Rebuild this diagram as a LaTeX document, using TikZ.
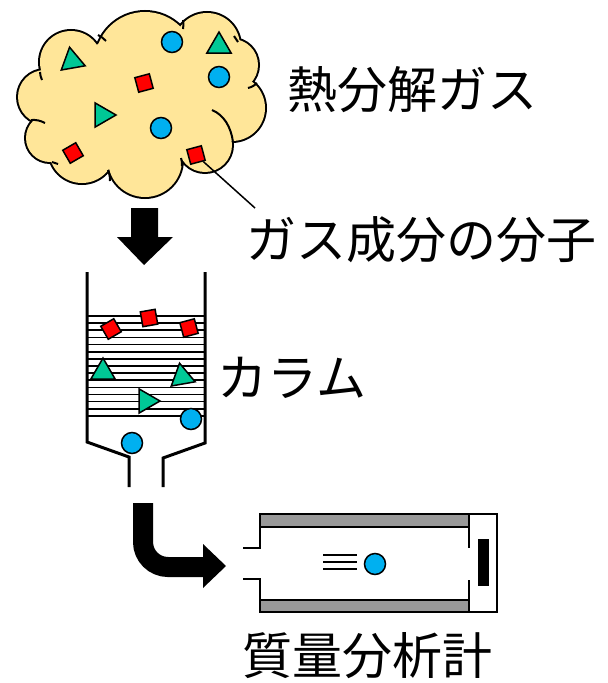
\documentclass[tikz,border=0pt]{standalone}
\usepackage{fontspec}
\setmainfont{Noto Sans CJK JP}
\usepackage{xcolor}
\usetikzlibrary{shapes.geometric}
\definecolor{cloudfill}{HTML}{FFE699}
\definecolor{molblue}{HTML}{00B0F0}
\definecolor{molgreen}{HTML}{00C896}
\definecolor{tubegray}{HTML}{999999}

\begin{document}
\begin{tikzpicture}[x=1pt, y=-1pt,
  blue mol/.style={circle, draw, line width=1.5pt, fill=molblue, minimum size=21pt, inner sep=0pt},
  red mol/.style={rectangle, draw, line width=1.5pt, fill=red, minimum size=15pt, inner sep=0pt},
  green mol/.style={regular polygon, regular polygon sides=3, draw, line width=1.5pt, fill=molgreen, minimum size=28pt, inner sep=0pt},
  label text/.style={font=\fontsize{50}{60}\selectfont, inner sep=0pt}]
  \useasboundingbox (0,0) rectangle (608,683);

  % cloud of pyrolysis gas
  \foreach \cx/\cy/\r in {71/62/31, 145/62/50, 207/46/33, 232/65/26, 232/108/33,
      205/145/27, 145/160/37, 82/150/33, 50/138/24, 45/97/27}
    \draw[line width=4pt] (\cx,\cy) circle[radius=\r];
  \foreach \cx/\cy/\r in {71/62/31, 145/62/50, 207/46/33, 232/65/26, 232/108/33,
      205/145/27, 145/160/37, 82/150/33, 50/138/24, 45/97/27, 140/100/70}
    \fill[cloudfill] (\cx,\cy) circle[radius=\r];
  \fill[cloudfill] (150,100) ellipse[x radius=95, y radius=60];
  \begin{scope}[line width=2pt]
    \draw (40,72) to[bend right=10] (42,80);
    \draw (98,35) to[bend left=10] (106,41);
    \draw (183,20) to[bend left=10] (183,29);
    \draw (234,36) to[bend left=10] (238,42);
    \draw (257,83) to[bend left=15] (248,88);
    \draw (212,110) .. controls (224,115) and (231,127) .. (233,142);
    \draw (181,158) to[bend left=10] (182,166);
    \draw (108,170) to[bend left=10] (110,181);
    \draw (52,162) to[bend right=10] (58,164);
    \draw (31,120) to[bend left=15] (45,123);
  \end{scope}

  \node[green mol, rotate=10] (gasT1) at (72,61) {};
  \node[blue mol] (gasC1) at (172,42) {};
  \node[green mol] (gasT2) at (219,46) {};
  \node[blue mol] (gasC2) at (219,77) {};
  \node[red mol, rotate=15] (gasS1) at (144,83) {};
  \node[green mol, rotate=-90] (gasT3) at (102,115) {};
  \node[blue mol] (gasC3) at (161,128) {};
  \node[red mol, rotate=30] (gasS2) at (73,153) {};
  \node[red mol, rotate=15] (gasS3) at (196,155) {};

  \node[label text] (gasLabel) at (412,90) {熱分解ガス};
  \node[label text] (molLabel) at (421,240) {ガス成分の分子};
  \coordinate (leadEnd) at (255,208);
  \draw[line width=1.5pt] (gasS3) -- (leadEnd);

  % down arrow
  \fill (131,208) -- (158,208) -- (158,237) -- (173,237) -- (144,265) -- (117,237) -- (131,237) -- cycle;

  % column
  \foreach \i in {0,...,14}
    \draw[line width=1.6pt] (88,316+\i*7.14) -- (204,316+\i*7.14);
  \draw[line width=3pt] (87,272) -- (87,442) -- (129,457) -- (129,487);
  \draw[line width=3pt] (205,272) -- (205,443) -- (163,458) -- (163,487);

  \node[red mol, rotate=30] (colS1) at (111,329) {};
  \node[red mol, rotate=10] (colS2) at (149,318) {};
  \node[red mol, rotate=15] (colS3) at (189,328) {};
  \node[green mol] (colT1) at (103,372) {};
  \node[green mol, rotate=10] (colT2) at (182,377) {};
  \node[green mol, rotate=-90] (colT3) at (146,401) {};
  \node[blue mol] (colC1) at (191,419) {};
  \node[blue mol] (colC2) at (132,443) {};

  \node[label text] (colLabel) at (292,378) {カラム};

  % bent arrow to the mass spectrometer
  \draw[line width=20pt] (143,503) -- (143,542) arc[start angle=180, end angle=90, radius=25] -- (204,567);
  \fill (203,544) -- (226,566) -- (203,588) -- cycle;

  % mass spectrometer
  \filldraw[fill=tubegray, line width=1.5pt] (260,514) rectangle (469,527);
  \filldraw[fill=tubegray, line width=1.5pt] (260,600) rectangle (469,612);
  \draw[line width=1.5pt] (469,514) -- (497,514) -- (497,612) -- (469,612);
  \draw[line width=1.5pt] (469,527) -- (469,548);
  \draw[line width=1.5pt] (469,580) -- (469,600);
  \draw[line width=1.5pt] (260,527) -- (260,548) -- (243,548);
  \draw[line width=1.5pt] (243,579) -- (260,579) -- (260,600);
  \fill (478,539) rectangle (489,586);
  \foreach \yy in {555,562,569}
    \draw[line width=1.2pt] (323,\yy) -- (357,\yy);
  \node[blue mol] (msC) at (375,564) {};

  \node[label text] (msLabel) at (367,656) {質量分析計};
\end{tikzpicture}
\end{document}
